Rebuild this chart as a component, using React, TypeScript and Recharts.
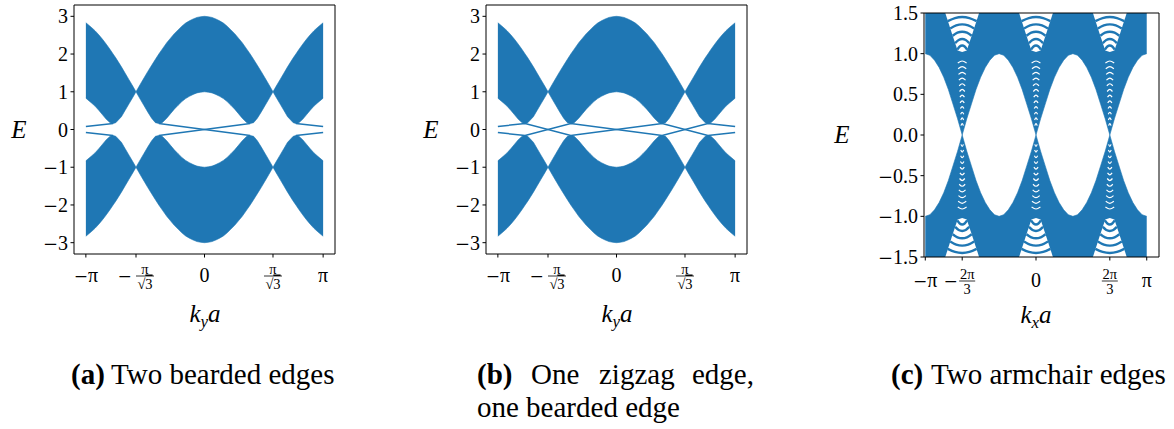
import React from 'react';
import { ComposedChart, Area, Line, XAxis, YAxis } from 'recharts';

const BLUE = '#1f77b4';
const SERIF = '"Liberation Serif", "Times New Roman", serif';
const MINUS_FONT = '"DejaVu Serif", serif';
const PI = Math.PI;
const S3 = Math.sqrt(3);

// ---------- panels (a), (b): bulk band envelopes ----------
const kBulk = [
  -3.1416, -3.0, -2.9, -2.8, -2.7, -2.6, -2.5, -2.42, -2.35, -2.2, -2.1, -2.0, -1.9, -1.814, -1.7, -1.6,
  -1.5, -1.4, -1.3, -1.21, -1.12, -1.0, -0.9, -0.8, -0.7, -0.6, -0.5, -0.4, -0.3, -0.2, -0.1,
  0,
  0.1, 0.2, 0.3, 0.4, 0.5, 0.6, 0.7, 0.8, 0.9, 1.0, 1.12, 1.21, 1.3, 1.4, 1.5,
  1.6, 1.7, 1.814, 1.9, 2.0, 2.1, 2.2, 2.35, 2.42, 2.5, 2.6, 2.7, 2.8, 2.9, 3.0, 3.1416,
];
const upperTop = [
  2.83, 2.71, 2.62, 2.51, 2.39, 2.26, 2.12, 2.0, 1.9, 1.66, 1.49, 1.32, 1.15, 1.0, 1.2, 1.37,
  1.54, 1.7, 1.86, 2.0, 2.13, 2.3, 2.42, 2.54, 2.64, 2.74, 2.82, 2.88, 2.93, 2.97, 2.99,
  3.0,
  2.99, 2.97, 2.93, 2.88, 2.82, 2.74, 2.64, 2.54, 2.42, 2.3, 2.13, 2.0, 1.86, 1.7, 1.54,
  1.37, 1.2, 1.0, 1.15, 1.32, 1.49, 1.66, 1.9, 2.0, 2.12, 2.26, 2.39, 2.51, 2.62, 2.71, 2.83,
];
const upperBot = [
  0.83, 0.71, 0.62, 0.51, 0.39, 0.27, 0.18, 0.16, 0.18, 0.34, 0.51, 0.68, 0.85, 1.0, 0.8, 0.63,
  0.46, 0.3, 0.18, 0.16, 0.18, 0.3, 0.42, 0.54, 0.64, 0.74, 0.82, 0.88, 0.93, 0.97, 0.99,
  1.0,
  0.99, 0.97, 0.93, 0.88, 0.82, 0.74, 0.64, 0.54, 0.42, 0.3, 0.18, 0.16, 0.18, 0.3, 0.46,
  0.63, 0.8, 1.0, 0.85, 0.68, 0.51, 0.34, 0.18, 0.16, 0.18, 0.27, 0.39, 0.51, 0.62, 0.71, 0.83,
];
const lowerTop = [
  -0.83, -0.71, -0.62, -0.51, -0.39, -0.27, -0.18, -0.16, -0.18, -0.34, -0.51, -0.68, -0.85, -1.0, -0.8, -0.63,
  -0.46, -0.3, -0.18, -0.16, -0.18, -0.3, -0.42, -0.54, -0.64, -0.74, -0.82, -0.88, -0.93, -0.97, -0.99,
  -1.0,
  -0.99, -0.97, -0.93, -0.88, -0.82, -0.74, -0.64, -0.54, -0.42, -0.3, -0.18, -0.16, -0.18, -0.3, -0.46,
  -0.63, -0.8, -1.0, -0.85, -0.68, -0.51, -0.34, -0.18, -0.16, -0.18, -0.27, -0.39, -0.51, -0.62, -0.71, -0.83,
];
const lowerBot = [
  -2.83, -2.71, -2.62, -2.51, -2.39, -2.26, -2.12, -2.0, -1.9, -1.66, -1.49, -1.32, -1.15, -1.0, -1.2, -1.37,
  -1.54, -1.7, -1.86, -2.0, -2.13, -2.3, -2.42, -2.54, -2.64, -2.74, -2.82, -2.88, -2.93, -2.97, -2.99,
  -3.0,
  -2.99, -2.97, -2.93, -2.88, -2.82, -2.74, -2.64, -2.54, -2.42, -2.3, -2.13, -2.0, -1.86, -1.7, -1.54,
  -1.37, -1.2, -1.0, -1.15, -1.32, -1.49, -1.66, -1.9, -2.0, -2.12, -2.26, -2.39, -2.51, -2.62, -2.71, -2.83,
];

// edge states, panel (a): six short segments
const edgeAK = [
  [-3.1416, -2.42], [-3.1416, -2.42], [-1.21, 1.21], [-1.21, 1.21], [2.42, 3.1416], [2.42, 3.1416],
];
const edgeAE = [
  [0.08, 0.16], [-0.08, -0.16], [0.16, -0.16], [-0.16, 0.16], [0.16, 0.08], [-0.16, -0.08],
];
// edge states, panel (b): two weaving lines
const edgeBK = [-3.1416, -2.42, -1.21, 1.21, 2.42, 3.1416];
const edgeB1 = [0.08, 0.16, -0.16, 0.16, -0.16, -0.08];
const edgeB2 = [-0.08, -0.16, 0.16, -0.16, 0.16, 0.08];

// ---------- panel (c): armchair ----------
const kC = [
  -3.1416, -3.0107, -2.8798, -2.7489, -2.618, -2.4871, -2.3562, -2.2253, -2.0944, -1.9635, -1.8326, -1.7017,
  -1.5708, -1.4399, -1.309, -1.1781, -1.0472, -0.9163, -0.7854, -0.6545, -0.5236, -0.3927, -0.2618, -0.1309,
  0,
  0.1309, 0.2618, 0.3927, 0.5236, 0.6545, 0.7854, 0.9163, 1.0472, 1.1781, 1.309, 1.4399, 1.5708,
  1.7017, 1.8326, 1.9635, 2.0944, 2.2253, 2.3562, 2.4871, 2.618, 2.7489, 2.8798, 3.0107, 3.1416,
];
const upperEdgeC = [
  1.0, 0.98, 0.92, 0.83, 0.71, 0.56, 0.38, 0.2, 0.0, 0.2, 0.38, 0.56,
  0.71, 0.83, 0.92, 0.98, 1.0, 0.98, 0.92, 0.83, 0.71, 0.56, 0.38, 0.2,
  0.0,
  0.2, 0.38, 0.56, 0.71, 0.83, 0.92, 0.98, 1.0, 0.98, 0.92, 0.83, 0.71,
  0.56, 0.38, 0.2, 0.0, 0.2, 0.38, 0.56, 0.71, 0.83, 0.92, 0.98, 1.0,
];
const lowerEdgeC = [
  -1.0, -0.98, -0.92, -0.83, -0.71, -0.56, -0.38, -0.2, -0.0, -0.2, -0.38, -0.56,
  -0.71, -0.83, -0.92, -0.98, -1.0, -0.98, -0.92, -0.83, -0.71, -0.56, -0.38, -0.2,
  -0.0,
  -0.2, -0.38, -0.56, -0.71, -0.83, -0.92, -0.98, -1.0, -0.98, -0.92, -0.83, -0.71,
  -0.56, -0.38, -0.2, -0.0, -0.2, -0.38, -0.56, -0.71, -0.83, -0.92, -0.98, -1.0,
];
const E_TOP = 1.5;
const E_BOTTOM = -1.5;

// white "arches" beyond |E| = 1 around k = -2pi/3, 0, 2pi/3
const archCenters = [-2.0944, 0, 2.0944];
const archDk = [-0.48, -0.3, -0.13, 0, 0.13, 0.3, 0.48];
const archUpperE = [1.5, 1.26, 1.04, 1.02, 1.04, 1.26, 1.5];
const archLowerE = [-1.5, -1.26, -1.04, -1.02, -1.04, -1.26, -1.5];
// blue sub-band arcs inside the arches
const arcLevels = [1.1, 1.18, 1.27, 1.36, 1.45];
const arcHalfWidth = [0.14, 0.2, 0.27, 0.34, 0.41];
const arcShape = [-1, -0.5, 0, 0.5, 1];
const arcDrop = [0.05, 0.012, 0, 0.012, 0.05];
// small white gaps between sub-bands inside the Dirac cones
const coneLevels = [0.14, 0.21, 0.28, 0.35, 0.42, 0.49, 0.56, 0.63, 0.7, 0.77, 0.84, 0.91];
const coneHalfWidth = [0.035, 0.04, 0.045, 0.05, 0.06, 0.065, 0.075, 0.085, 0.095, 0.105, 0.115, 0.125];
const coneShape = [-1, 0, 1];
const coneDrop = [0.025, 0, 0.025];

// ticks
const ticksAB = [-PI, -PI / S3, 0, PI / S3, PI];
const labelsAB = ['−π', '−π/√3', '0', 'π/√3', 'π'];
const yTicksAB = [-3, -2, -1, 0, 1, 2, 3];
const yLabelsAB = ['−3', '−2', '−1', '0', '1', '2', '3'];
const ticksC = [-PI, (-2 * PI) / 3, 0, (2 * PI) / 3, PI];
const labelsC = ['−π', '−2π/3', '0', '2π/3', 'π'];
const yTicksC = [-1.5, -1, -0.5, 0, 0.5, 1, 1.5];
const yLabelsC = ['−1.5', '−1.0', '−0.5', '0.0', '0.5', '1.0', '1.5'];

// ---------- tables ----------
const bulkRows = kBulk.map((k, i) => ({ k, up: [upperBot[i], upperTop[i]], lo: [lowerBot[i], lowerTop[i]] }));
const edgeARows = edgeAK.map((ks, j) => ks.map((k, i) => ({ k, E: edgeAE[j][i] })));
const edgeBRows = [edgeB1, edgeB2].map((es) => edgeBK.map((k, i) => ({ k, E: es[i] })));
const cRows = kC.map((k, i) => ({ k, up: [upperEdgeC[i], E_TOP], lo: [E_BOTTOM, lowerEdgeC[i]] }));
const archUpRows = archCenters.map((c) => archDk.map((d, i) => ({ k: c + d, v: [archUpperE[i], E_TOP] })));
const archLoRows = archCenters.map((c) => archDk.map((d, i) => ({ k: c + d, v: [E_BOTTOM, archLowerE[i]] })));
const arcRows: { k: number; E: number }[][] = [];
const coneRows: { k: number; E: number }[][] = [];
archCenters.forEach((c) => {
  arcLevels.forEach((lev, j) => {
    arcRows.push(arcShape.map((s, i) => ({ k: c + s * arcHalfWidth[j], E: lev - arcDrop[i] })));
    arcRows.push(arcShape.map((s, i) => ({ k: c + s * arcHalfWidth[j], E: -lev + arcDrop[i] })));
  });
  coneLevels.forEach((lev, j) => {
    coneRows.push(coneShape.map((s, i) => ({ k: c + s * coneHalfWidth[j], E: lev - coneDrop[i] })));
    coneRows.push(coneShape.map((s, i) => ({ k: c + s * coneHalfWidth[j], E: -lev + coneDrop[i] })));
  });
});

// ---------- tick renderers ----------
function MathXLabel({ x, M, text }: { x: number; M: number; text: string }) {
  const minus = text.startsWith('−');
  const body = minus ? text.slice(1) : text;
  if (body.includes('/')) {
    const [num, den] = body.split('/');
    const isRoot = den.startsWith('√');
    const fx = minus ? x + (isRoot ? 9 : 5) : x;
    const half = isRoot ? 9 : 8;
    return (
      <g>
        {minus && (
          <text x={x - 11.5} y={M + 5.5} textAnchor="middle" fontFamily={MINUS_FONT} fontSize={17} fill="#000">
            −
          </text>
        )}
        <text x={fx} y={M - 2.5} textAnchor="middle" fontFamily={SERIF} fontSize={14.5} fill="#000">
          {num}
        </text>
        <line x1={fx - half} x2={fx + half} y1={M} y2={M} stroke="#000" strokeWidth={0.8} />
        <text x={fx} y={M + 12.5} textAnchor="middle" fontFamily={SERIF} fontSize={14.5} fill="#000">
          {isRoot ? (
            <>
              <tspan>√</tspan>
              <tspan textDecoration="overline">{den.slice(1)}</tspan>
            </>
          ) : (
            den
          )}
        </text>
      </g>
    );
  }
  return (
    <text x={x} y={M + 5.5} textAnchor="middle" fill="#000">
      {minus && (
        <tspan fontFamily={MINUS_FONT} fontSize={17}>
          −
        </tspan>
      )}
      <tspan fontFamily={SERIF} fontSize={20}>
        {body}
      </tspan>
    </text>
  );
}

const makeXTick = (ticks: number[], labels: string[], off: number) => (p: any) => {
  const i = ticks.findIndex((t) => Math.abs(t - p.payload.value) < 1e-6);
  return <MathXLabel x={p.x} M={p.y + off} text={labels[i] ?? ''} />;
};

const makeYTick = (ticks: number[], labels: string[]) => (p: any) => {
  const i = ticks.findIndex((t) => Math.abs(t - p.payload.value) < 1e-6);
  const s = labels[i] ?? '';
  const minus = s.startsWith('−');
  return (
    <text x={p.x} y={p.y + 7} textAnchor="end" fill="#000">
      {minus && (
        <tspan fontFamily={MINUS_FONT} fontSize={18}>
          −
        </tspan>
      )}
      <tspan fontFamily={SERIF} fontSize={20}>
        {minus ? s.slice(1) : s}
      </tspan>
    </text>
  );
};

const axisStroke = { stroke: '#000', strokeWidth: 1 };

function BulkPanel({ variant }: { variant: 'a' | 'b' }) {
  return (
    <ComposedChart width={345} height={300} data={bulkRows} margin={{ top: 4, right: 9, bottom: 0, left: 0 }}>
      <XAxis
        dataKey="k"
        type="number"
        domain={[-3.456, 3.456]}
        allowDataOverflow
        ticks={ticksAB}
        interval={0}
        height={46}
        tickSize={3.5}
        tickMargin={0}
        axisLine={axisStroke}
        tickLine={axisStroke}
        tick={makeXTick(ticksAB, labelsAB, 18.5)}
      />
      <XAxis xAxisId="top" orientation="top" type="number" domain={[0, 1]} height={1} tick={false} tickLine={false} axisLine={axisStroke} />
      <YAxis
        type="number"
        domain={[-3.3, 3.3]}
        allowDataOverflow
        ticks={yTicksAB}
        interval={0}
        width={74}
        tickSize={3.5}
        tickMargin={2.5}
        axisLine={axisStroke}
        tickLine={axisStroke}
        tick={makeYTick(yTicksAB, yLabelsAB)}
      />
      <YAxis yAxisId="right" orientation="right" type="number" domain={[0, 1]} width={1} tick={false} tickLine={false} axisLine={axisStroke} />
      <Area dataKey="up" type="linear" stroke={BLUE} strokeWidth={0.6} fill={BLUE} fillOpacity={1} isAnimationActive={false} dot={false} activeDot={false} />
      <Area dataKey="lo" type="linear" stroke={BLUE} strokeWidth={0.6} fill={BLUE} fillOpacity={1} isAnimationActive={false} dot={false} activeDot={false} />
      {(variant === 'a' ? edgeARows : edgeBRows).map((rows, i) => (
        <Line key={i} data={rows} dataKey="E" type="linear" stroke={BLUE} strokeWidth={1.5} dot={false} activeDot={false} isAnimationActive={false} />
      ))}
    </ComposedChart>
  );
}

function ArmchairPanel() {
  return (
    <ComposedChart width={320} height={300} data={cRows} margin={{ top: 12, right: 10, bottom: 0, left: 0 }}>
      <XAxis
        dataKey="k"
        type="number"
        domain={[-3.178, 3.49]}
        allowDataOverflow
        ticks={ticksC}
        interval={0}
        height={43}
        tickSize={3.5}
        tickMargin={0}
        axisLine={axisStroke}
        tickLine={axisStroke}
        tick={makeXTick(ticksC, labelsC, 20.5)}
      />
      <XAxis xAxisId="top" orientation="top" type="number" domain={[0, 1]} height={1} tick={false} tickLine={false} axisLine={axisStroke} />
      <YAxis
        type="number"
        domain={[-1.5, 1.5]}
        allowDataOverflow
        ticks={yTicksC}
        interval={0}
        width={74}
        tickSize={3.5}
        tickMargin={2.5}
        axisLine={axisStroke}
        tickLine={axisStroke}
        tick={makeYTick(yTicksC, yLabelsC)}
      />
      <YAxis yAxisId="right" orientation="right" type="number" domain={[0, 1]} width={1} tick={false} tickLine={false} axisLine={axisStroke} />
      <Area dataKey="up" type="linear" stroke={BLUE} strokeWidth={0.6} fill={BLUE} fillOpacity={1} isAnimationActive={false} dot={false} activeDot={false} />
      <Area dataKey="lo" type="linear" stroke={BLUE} strokeWidth={0.6} fill={BLUE} fillOpacity={1} isAnimationActive={false} dot={false} activeDot={false} />
      {archUpRows.map((rows, i) => (
        <Area key={'au' + i} data={rows} dataKey="v" type="linear" stroke="none" fill="#fff" fillOpacity={1} isAnimationActive={false} dot={false} activeDot={false} />
      ))}
      {archLoRows.map((rows, i) => (
        <Area key={'al' + i} data={rows} dataKey="v" type="linear" stroke="none" fill="#fff" fillOpacity={1} isAnimationActive={false} dot={false} activeDot={false} />
      ))}
      {arcRows.map((rows, i) => (
        <Line key={'arc' + i} data={rows} dataKey="E" type="monotone" stroke={BLUE} strokeWidth={2.4} dot={false} activeDot={false} isAnimationActive={false} />
      ))}
      {coneRows.map((rows, i) => (
        <Line key={'cone' + i} data={rows} dataKey="E" type="monotone" stroke="#fff" strokeWidth={1.2} dot={false} activeDot={false} isAnimationActive={false} />
      ))}
    </ComposedChart>
  );
}

function AxisTitle({ x, y, main, sub }: { x: number; y: number; main: string; sub?: string }) {
  return (
    <text x={x} y={y} textAnchor="middle" fontFamily={SERIF} fontStyle="italic" fontSize={25} fill="#000">
      {sub ? (
        <>
          <tspan>{main}</tspan>
          <tspan fontSize={17} dy={5}>
            {sub}
          </tspan>
          <tspan dy={-5}>a</tspan>
        </>
      ) : (
        main
      )}
    </text>
  );
}

export default function App() {
  return (
    <div style={{ position: 'fixed', left: 0, top: 0, width: 1174, height: 429, background: '#fff', overflow: 'hidden' }}>
      <div style={{ position: 'absolute', left: 0, top: 0 }}>
        <BulkPanel variant="a" />
      </div>
      <div style={{ position: 'absolute', left: 412, top: 0 }}>
        <BulkPanel variant="b" />
      </div>
      <div style={{ position: 'absolute', left: 850, top: 0 }}>
        <ArmchairPanel />
      </div>
      <svg width={1174} height={429} style={{ position: 'absolute', left: 0, top: 0, pointerEvents: 'none' }}>
        <AxisTitle x={19} y={137.5} main="E" />
        <AxisTitle x={431} y={137.5} main="E" />
        <AxisTitle x={842} y={143} main="E" />
        <AxisTitle x={205} y={322} main="k" sub="y" />
        <AxisTitle x={617} y={322} main="k" sub="y" />
        <AxisTitle x={1036} y={323} main="k" sub="x" />
        <g fontFamily={SERIF} fontSize={29} fill="#000">
          <text x={71} y={384} fontWeight="bold">(a)</text>
          <text x={111} y={384}>Two bearded edges</text>
          <text x={477} y={384} fontWeight="bold">(b)</text>
          <text x={531} y={384}>One</text>
          <text x={599} y={384}>zigzag</text>
          <text x={692} y={384}>edge,</text>
          <text x={477} y={417}>one bearded edge</text>
          <text x={891} y={384} fontWeight="bold">(c)</text>
          <text x={931} y={384}>Two armchair edges</text>
        </g>
      </svg>
    </div>
  );
}
